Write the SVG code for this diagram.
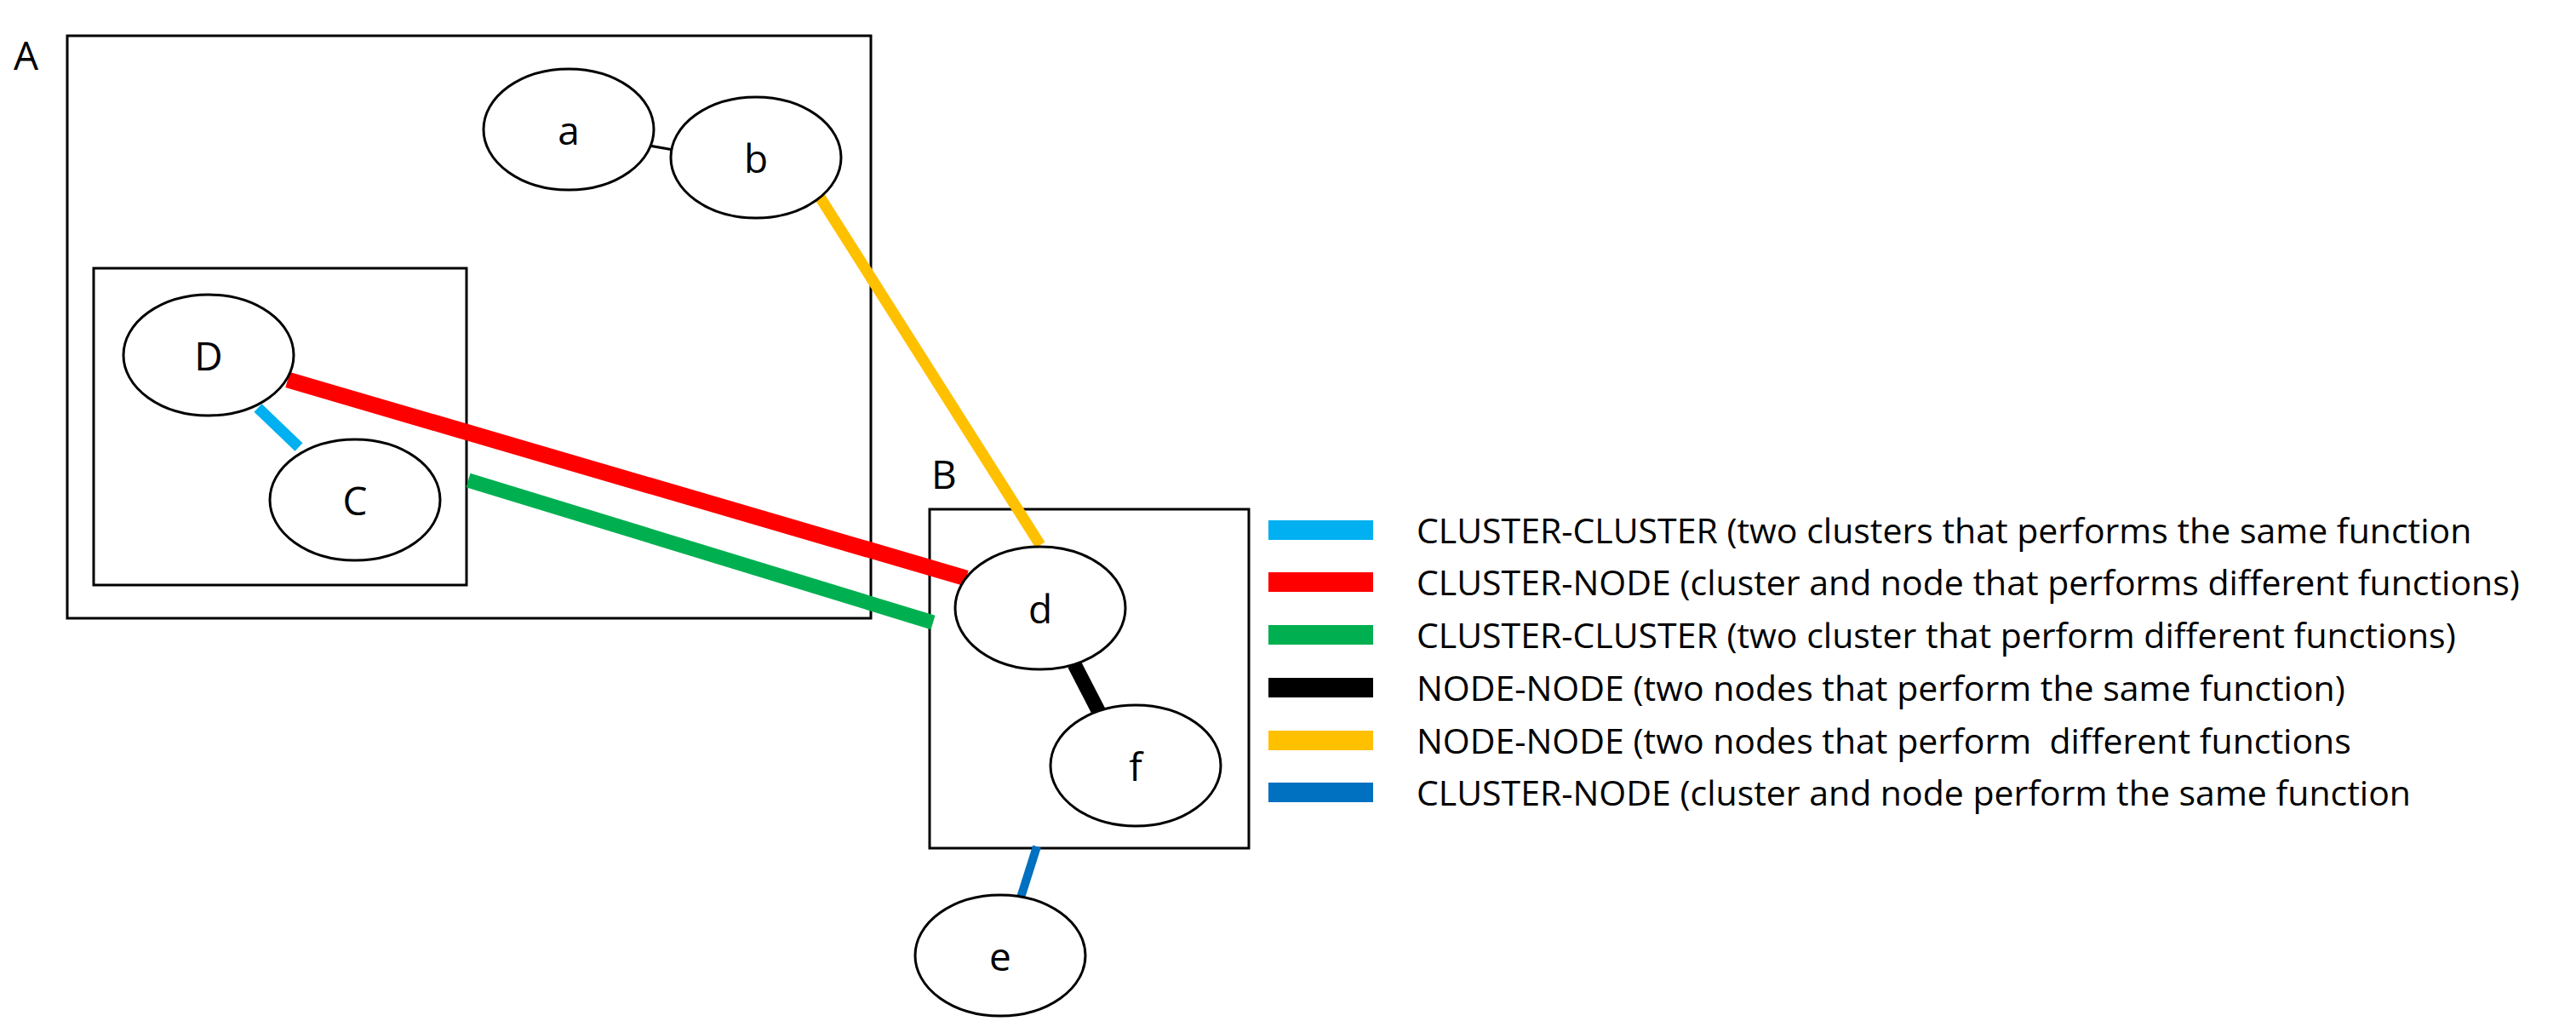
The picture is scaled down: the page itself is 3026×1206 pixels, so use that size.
<svg xmlns="http://www.w3.org/2000/svg" width="3026" height="1206" viewBox="0 0 3026 1206">
<style>
.box{fill:none;stroke:#000;stroke-width:3}
.n{fill:#fff;stroke:#000;stroke-width:3}
.t{font-family:"Open Sans",sans-serif;font-size:46px;fill:#000}
.nl{font-family:"Open Sans",sans-serif;font-size:46px;fill:#000;text-anchor:middle;dominant-baseline:central}
.lg{font-family:"Open Sans",sans-serif;font-size:41px;fill:#000;dominant-baseline:central}
</style>
<rect width="3026" height="1206" fill="#fff"/>
<g id="clusterA"><rect class="box" x="79" y="42" width="944" height="684"/><text class="t" x="16" y="82">A</text></g>
<g id="clusterInner"><rect class="box" x="110" y="315" width="438" height="372"/></g>
<g id="clusterB"><rect class="box" x="1092" y="598" width="375" height="398"/><text class="t" x="1094" y="574">B</text></g>
<g id="connectors" stroke-linecap="butt">
<line x1="757" y1="170" x2="791" y2="176" stroke="#000" stroke-width="3"/>
<line x1="961" y1="228" x2="1222" y2="640" stroke="#ffc000" stroke-width="13"/>
<line x1="338" y1="446" x2="1135" y2="679" stroke="#ff0000" stroke-width="19"/>
<line x1="550" y1="564" x2="1096" y2="731" stroke="#00b050" stroke-width="17"/>
<line x1="303" y1="479" x2="351" y2="525" stroke="#00b0f0" stroke-width="13"/>
<line x1="1262" y1="780" x2="1296" y2="846" stroke="#000" stroke-width="17"/>
<line x1="1218" y1="994" x2="1199" y2="1054" stroke="#0070c0" stroke-width="10"/>
</g>
<g id="node-a"><ellipse class="n" cx="668" cy="152" rx="100" ry="71"/><text class="nl" x="668" y="152">a</text></g>
<g id="node-b"><ellipse class="n" cx="888" cy="185" rx="100" ry="71"/><text class="nl" x="888" y="185">b</text></g>
<g id="node-D"><ellipse class="n" cx="245" cy="417" rx="100" ry="71"/><text class="nl" x="245" y="417">D</text></g>
<g id="node-C"><ellipse class="n" cx="417" cy="587" rx="100" ry="71"/><text class="nl" x="417" y="587">C</text></g>
<g id="node-d"><ellipse class="n" cx="1222" cy="714" rx="100" ry="72"/><text class="nl" x="1222" y="714">d</text></g>
<g id="node-f"><ellipse class="n" cx="1334" cy="899" rx="100" ry="71"/><text class="nl" x="1334" y="899">f</text></g>
<g id="node-e"><ellipse class="n" cx="1175" cy="1122" rx="100" ry="71"/><text class="nl" x="1175" y="1122">e</text></g>
<g id="legend">
<rect x="1490" y="611" width="123" height="23" fill="#00b0f0"/>
<rect x="1490" y="672" width="123" height="23" fill="#ff0000"/>
<rect x="1490" y="734" width="123" height="23" fill="#00b050"/>
<rect x="1490" y="796" width="123" height="23" fill="#000"/>
<rect x="1490" y="858" width="123" height="23" fill="#ffc000"/>
<rect x="1490" y="919" width="123" height="23" fill="#0070c0"/>
<text class="lg" x="1664" y="622">CLUSTER-CLUSTER (two clusters that performs the same function</text>
<text class="lg" x="1664" y="683">CLUSTER-NODE (cluster and node that performs different functions)</text>
<text class="lg" x="1664" y="745">CLUSTER-CLUSTER (two cluster that perform different functions)</text>
<text class="lg" x="1664" y="807">NODE-NODE (two nodes that perform the same function)</text>
<text class="lg" x="1664" y="869" xml:space="preserve">NODE-NODE (two nodes that perform  different functions</text>
<text class="lg" x="1664" y="930">CLUSTER-NODE (cluster and node perform the same function</text>
</g>
</svg>
